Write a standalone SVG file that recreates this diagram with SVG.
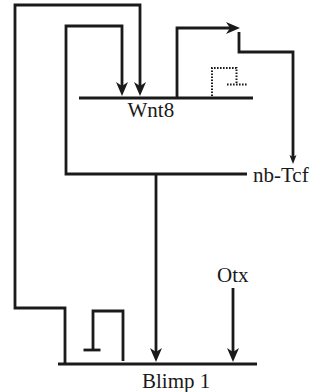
<svg xmlns="http://www.w3.org/2000/svg" width="320" height="392" viewBox="0 0 320 392">
  <defs>
    <style>
      .ln { fill: none; stroke: #1a1a1a; stroke-width: 2.8; stroke-linecap: butt; stroke-linejoin: miter; }
      .dot { fill: none; stroke: #1a1a1a; stroke-width: 2; stroke-dasharray: 1.6 1.4; }
      .lbl { font-family: "Liberation Serif", "Times New Roman", serif; font-size: 21px; fill: #1a1a1a; }
      .ah { fill: #1a1a1a; stroke: none; }
    </style>
  </defs>
  <rect width="320" height="392" fill="#ffffff"/>

  <g id="node-wnt8">
    <line class="ln" x1="79" y1="98" x2="253" y2="98"/>
    <text class="lbl" x="127.5" y="117">Wnt8</text>
  </g>
  <g id="node-nbtcf">
    <text class="lbl" x="253" y="182">nb-Tcf</text>
  </g>
  <g id="node-otx">
    <text class="lbl" x="217" y="282">Otx</text>
  </g>
  <g id="node-blimp1">
    <line class="ln" x1="58" y1="364" x2="257" y2="364"/>
    <text class="lbl" x="142" y="388">Blimp 1</text>
  </g>

  <g id="connectors">
    <!-- Blimp1 -> Wnt8 (outer loop) -->
    <path class="ln" d="M65,364 V308 H15 V5 H140 V86"/>
    <path class="ah" d="M140,96 L134,82 L140,86 L146,82 Z"/>
    <!-- nb-Tcf -> Wnt8 (inner loop) -->
    <path class="ln" d="M247,174 H66 V26 H122 V86"/>
    <path class="ah" d="M122,96 L116,82 L122,86 L128,82 Z"/>
    <!-- nb-Tcf -> Blimp1 -->
    <path class="ln" d="M156,174 V352"/>
    <path class="ah" d="M156,362 L150,348 L156,352 L162,348 Z"/>
    <!-- Wnt8 output -->
    <path class="ln" d="M177,98 V28 H230"/>
    <path class="ah" d="M240,28 L226,22 L230,28 L226,34 Z"/>
    <!-- to nb-Tcf -->
    <path class="ln" d="M239,32 V52 H293 V157"/>
    <path class="ah" d="M293,164 L289.5,155 L293,157 L296.5,155 Z"/>
    <!-- Otx -> Blimp1 -->
    <path class="ln" d="M233,288 V352"/>
    <path class="ah" d="M233,362 L227,348 L233,352 L239,348 Z"/>
    <!-- Blimp1 auto-repression -->
    <path class="ln" d="M123,361 V311 H93 V350"/>
    <line class="ln" x1="83.5" y1="350" x2="100.5" y2="350"/>
    <!-- dotted expression trace -->
    <path class="dot" d="M212,96 V68 H236.5 V84"/>
    <line class="dot" x1="227" y1="84.5" x2="248" y2="84.5"/>
  </g>
</svg>
